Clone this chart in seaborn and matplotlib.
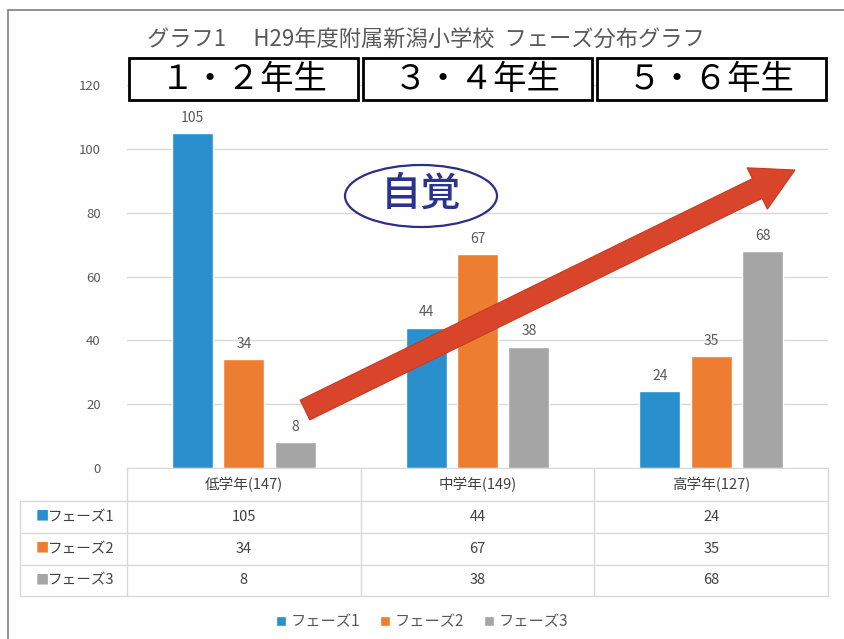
import pandas as pd
import matplotlib.pyplot as plt
import seaborn as sns
from matplotlib.patches import Rectangle, Ellipse, FancyArrow
from matplotlib.transforms import blended_transform_factory

# Chart data
categories = ["低学年(147)", "中学年(149)", "高学年(127)"]
phases = ["フェーズ1", "フェーズ2", "フェーズ3"]
phase1 = [105, 44, 24]
phase2 = [34, 67, 35]
phase3 = [8, 38, 68]
grades = ["１・２年生", "３・４年生", "５・６年生"]
yticks = [0, 20, 40, 60, 80, 100, 120]
colors = ["#2a8fcd", "#ed7d31", "#a5a5a5"]

df = pd.DataFrame({
    "学年": categories * 3,
    "フェーズ": [p for p in phases for _ in categories],
    "人数": phase1 + phase2 + phase3,
})

sns.set_style("white")
plt.rcParams["font.family"] = ["Noto Sans CJK JP", "DejaVu Sans"]

W, H = 844, 639
fig = plt.figure(figsize=(W / 100, H / 100), dpi=100)


def fx(px):
    return px / W


def fy(py):
    return 1 - py / H


ax = fig.add_axes([fx(127), fy(468), fx(828) - fx(127), fy(85) - fy(468)])
sns.barplot(data=df, x="学年", y="人数", hue="フェーズ", palette=colors,
            width=0.66, gap=0.2, ax=ax, saturation=1)
ax.set_ylim(0, 120)
ax.set_xlim(-0.5, 2.5)
ax.set_yticks(yticks)
ax.set_xticks([])
ax.set_xlabel("")
ax.set_ylabel("")
ax.tick_params(axis="y", length=0, pad=19, labelsize=9.5, labelcolor="#595959")
ax.grid(axis="y", color="#d9d9d9", lw=1)
ax.set_axisbelow(True)
for s in ["top", "right", "left"]:
    ax.spines[s].set_visible(False)
ax.spines["bottom"].set_color("#d9d9d9")

for cont in ax.containers:
    ax.bar_label(cont, padding=6, fontsize=10, color="#595959")

handles, labels = ax.get_legend_handles_labels()
ax.get_legend().remove()

# data table below the axes
tr = blended_transform_factory(ax.transData, fig.transFigure)
row_edges = [468, 501, 533, 565, 596]
for y in row_edges[1:]:
    fig.add_artist(plt.Line2D([fx(20), fx(828)], [fy(y), fy(y)], color="#d9d9d9", lw=1))
for xv in [-0.5, 0.5, 1.5, 2.5]:
    fig.add_artist(plt.Line2D([xv, xv], [fy(468), fy(596)], transform=tr, color="#d9d9d9", lw=1))
fig.add_artist(plt.Line2D([fx(20), fx(20)], [fy(501), fy(596)], color="#d9d9d9", lw=1))

for i, c in enumerate(categories):
    fig.text(i, fy(485), c, transform=tr, ha="center", va="center", fontsize=10.5, color="#404040")
table_vals = [phase1, phase2, phase3]
for r, (name, vals) in enumerate(zip(phases, table_vals)):
    yc = fy((row_edges[r + 1] + row_edges[r + 2]) / 2)
    fig.text(fx(36), yc, "■", ha="left", va="center", fontsize=9.5, color=colors[r])
    fig.text(fx(48), yc, name, ha="left", va="center", fontsize=10.5, color="#404040")
    for i, v in enumerate(vals):
        fig.text(i, yc, str(v), transform=tr, ha="center", va="center", fontsize=10.5, color="#404040")

# legend
fig.legend(handles, labels, loc="center", bbox_to_anchor=(fx(422), fy(622)), ncol=3,
           frameon=False, handlelength=0.65, handleheight=0.65, handletextpad=0.3,
           columnspacing=1.3, fontsize=11, labelcolor="#595959")

# title
fig.text(fx(426), fy(40), "グラフ1　 H29年度附属新潟小学校  フェーズ分布グラフ",
         ha="center", va="center", fontsize=16, color="#595959")

# grade boxes above each group
for i, g in enumerate(grades):
    fig.add_artist(Rectangle((i - 0.49, fy(100)), 0.98, fy(58) - fy(100), transform=tr,
                             facecolor="white", edgecolor="black", lw=2, zorder=5))
    fig.text(i, fy(80), g, transform=tr, ha="center", va="center", fontsize=24,
             color="black", zorder=6)

# annotation: ellipse and arrow
fig.add_artist(Ellipse((4.21, 6.39 - 1.96), 1.52, 0.62, transform=fig.dpi_scale_trans,
                       facecolor="white", edgecolor="#2b2f86", lw=1.6, zorder=5))
fig.text(4.21, 6.39 - 1.94, "自覚", transform=fig.dpi_scale_trans, ha="center", va="center",
         fontsize=29, fontweight="medium", color="#2b3290", zorder=6)
fig.add_artist(FancyArrow(3.05, 6.39 - 4.10, 4.90, 2.40, width=0.22, head_width=0.46,
                          head_length=0.42, length_includes_head=True,
                          transform=fig.dpi_scale_trans, facecolor="#d9452b",
                          edgecolor="#c83a22", lw=0.8, zorder=7))

# outer frame
fig.add_artist(plt.Line2D([fx(8), 1], [fy(10), fy(10)], color="#7f7f7f", lw=1.2))
fig.add_artist(plt.Line2D([fx(8), fx(8)], [fy(10), 0], color="#7f7f7f", lw=1.2))

fig.savefig("out.png", dpi=100, facecolor="white")
